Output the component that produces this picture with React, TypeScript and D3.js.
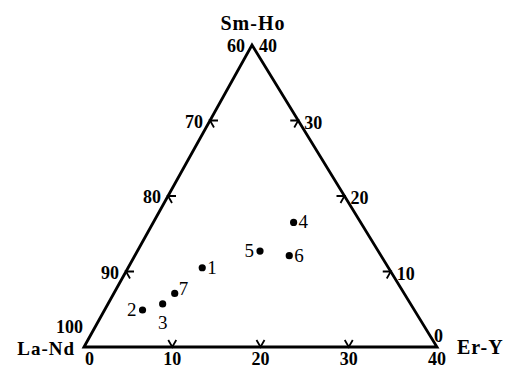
import React from 'react';
import * as d3 from 'd3';

// ternary components: La-Nd (bottom-left), Sm-Ho (top), Er-Y (bottom-right)
const sampleIds = ['1', '2', '3', '4', '5', '6', '7'];
const laNd = [81.1, 90.8, 88.1, 67.6, 73.4, 70.4, 86.0];
const smHo = [10.5, 4.9, 5.7, 16.5, 12.7, 12.1, 7.1];
const erY = [8.4, 4.3, 6.2, 15.9, 13.9, 17.5, 6.9];
const labelSide = ['right', 'left', 'below', 'right', 'left', 'right', 'rightUp'];

const leftTicks = [90, 80, 70]; // La-Nd
const rightTicks = [10, 20, 30]; // Sm-Ho
const bottomTicks = [10, 20, 30]; // Er-Y

const W = 510;
const H = 369;
const BL: [number, number] = [84, 347];
const TOP: [number, number] = [252, 45];
const BR: [number, number] = [437, 347];

const fracLa = d3.scaleLinear().domain([60, 100]).range([0, 1]);
const fracSm = d3.scaleLinear().domain([0, 40]).range([0, 1]);
const fracEr = d3.scaleLinear().domain([0, 40]).range([0, 1]);

function project(la: number, sm: number, er: number): [number, number] {
  let u = fracLa(la), v = fracSm(sm), w = fracEr(er);
  let s = u + v + w;
  u /= s; v /= s; w /= s;
  return [u * BL[0] + v * TOP[0] + w * BR[0], u * BL[1] + v * TOP[1] + w * BR[1]];
}

const SERIF = 'Liberation Serif';
const ARM = 8;

function chevron(p: [number, number], a1: number, a2: number) {
  const r = (a: number) => (a * Math.PI) / 180;
  const path = d3.path();
  path.moveTo(p[0] + ARM * Math.cos(r(a1)), p[1] - ARM * Math.sin(r(a1)));
  path.lineTo(p[0], p[1]);
  path.lineTo(p[0] + ARM * Math.cos(r(a2)), p[1] - ARM * Math.sin(r(a2)));
  return path.toString();
}

export default function App() {
  const tri = d3.line()([BL, TOP, BR, BL]) + 'Z';
  const num = { fontFamily: SERIF, fontSize: 18, fill: '#000', fontWeight: 'bold' };
  const head = { fontFamily: SERIF, fontSize: 20, fill: '#000', fontWeight: 'bold', letterSpacing: 1 };

  return (
    <svg width={W} height={H} style={{ position: 'absolute', left: 0, top: 0, background: '#fff' }}>
      <path d={tri} fill="none" stroke="#000" strokeWidth={2.8} strokeLinejoin="miter" />

      {/* left edge: La-Nd, Er-Y = 0 */}
      {leftTicks.map(t => {
        const p = project(t, 100 - t, 0);
        return (
          <g key={'l' + t}>
            <path d={chevron(p, 0, -60)} fill="none" stroke="#000" strokeWidth={1.8} />
            <text x={p[0] - 7} y={p[1] + 7} textAnchor="end" {...num}>{t}</text>
          </g>
        );
      })}
      {/* right edge: Sm-Ho, La-Nd = 60 */}
      {rightTicks.map(t => {
        const p = project(60, t, 40 - t);
        return (
          <g key={'r' + t}>
            <path d={chevron(p, 180, 240)} fill="none" stroke="#000" strokeWidth={1.8} />
            <text x={p[0] + 6} y={p[1] + 8} textAnchor="start" {...num}>{t}</text>
          </g>
        );
      })}
      {/* bottom edge: Er-Y, Sm-Ho = 0 */}
      {bottomTicks.map(t => {
        const p = project(100 - t, 0, t);
        return (
          <g key={'b' + t}>
            <path d={chevron(p, 60, 120)} fill="none" stroke="#000" strokeWidth={1.8} />
            <text x={p[0]} y={p[1] + 18} textAnchor="middle" {...num}>{t}</text>
          </g>
        );
      })}

      {/* corner values */}
      <text x={BL[0] - 1} y={BL[1] - 14} textAnchor="end" {...num}>100</text>
      <text x={BL[0] + 1} y={BL[1] + 18} textAnchor="start" {...num}>0</text>
      <text x={BR[0]} y={BR[1] + 18} textAnchor="middle" {...num}>40</text>
      <text x={BR[0] - 3} y={BR[1] - 5} textAnchor="start" {...num}>0</text>
      <text x={TOP[0] - 7} y={TOP[1] + 7} textAnchor="end" {...num}>60</text>
      <text x={TOP[0] + 7} y={TOP[1] + 7} textAnchor="start" {...num}>40</text>

      {/* vertex names */}
      <text x={TOP[0] + 1} y={TOP[1] - 15} textAnchor="middle" {...head}>Sm-Ho</text>
      <text x={BL[0] - 9} y={BL[1] + 8} textAnchor="end" {...head} fontSize={19}>La-Nd</text>
      <text x={BR[0] + 20} y={BR[1] + 7} textAnchor="start" {...head}>Er-Y</text>

      {/* samples */}
      {sampleIds.map((id, i) => {
        const p = project(laNd[i], smHo[i], erY[i]);
        const side = labelSide[i];
        let lx = p[0] + 5, ly = p[1] + 6, anchor = 'start';
        if (side === 'left') { lx = p[0] - 6; anchor = 'end'; }
        if (side === 'below') { lx = p[0]; ly = p[1] + 25; anchor = 'middle'; }
        if (side === 'rightUp') { lx = p[0] + 4; ly = p[1] + 2; }
        return (
          <g key={id}>
            <circle cx={p[0]} cy={p[1]} r={3.6} fill="#000" />
            <text x={lx} y={ly} textAnchor={anchor} fontFamily={SERIF} fontSize={19} fill="#000">{id}</text>
          </g>
        );
      })}
    </svg>
  );
}
